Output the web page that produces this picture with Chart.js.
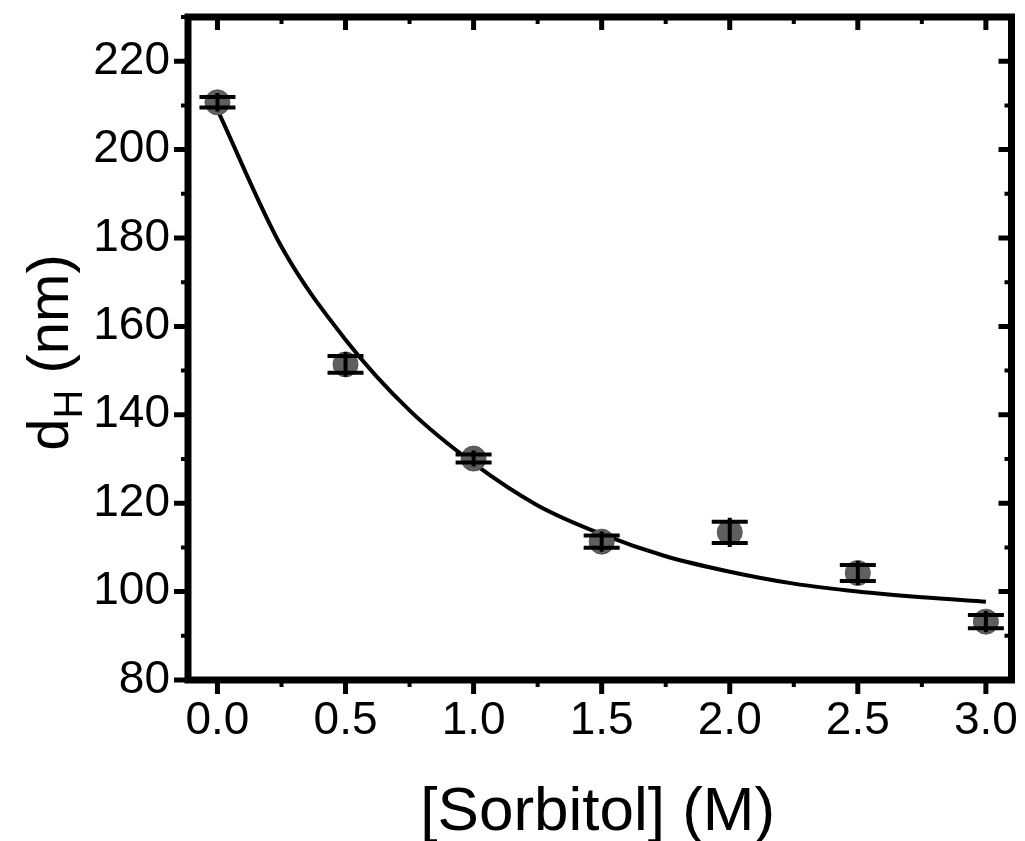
<!DOCTYPE html>
<html>
<head>
<meta charset="utf-8">
<script src="https://cdn.jsdelivr.net/npm/chart.js@4"></script>
<style>
  html, body { margin: 0; padding: 0; background: #fff; }
  #wrap { width: 1025px; height: 841px; }
</style>
</head>
<body>
<div id="wrap"><canvas id="dhChart" width="1025" height="841"></canvas></div>
<script>
// measured points
const sorbitol = [0, 0.5, 1.0, 1.5, 2.0, 2.5, 3.0];
const dH = [210.7, 151.4, 130.1, 111.3, 113.4, 104.2, 93.2];
const dHErr = [1.2, 1.9, 0.9, 1.4, 2.4, 1.8, 1.5];

// fitted decay curve
const fitX = [0, 0.25, 0.5, 0.75, 1.0, 1.25, 1.5, 1.75, 2.0, 2.25, 2.5, 2.75, 3.0];
const fitY = [209, 178, 157, 141, 129, 119.5, 113, 108, 104.5, 101.8, 100, 98.7, 97.7];

const xMajor = [0, 0.5, 1.0, 1.5, 2.0, 2.5, 3.0];
const xMinor = [0.25, 0.75, 1.25, 1.75, 2.25, 2.75];
const yMajor = [80, 100, 120, 140, 160, 180, 200, 220];
const yMinor = [90, 110, 130, 150, 170, 190, 210, 230];

const FONT = "'Liberation Sans', Arial, Helvetica, sans-serif";

// error bars on top of the markers
const errorBars = {
    id: 'errorBars',
    afterDatasetsDraw(chart) {
        const ctx = chart.ctx;
        const xs = chart.scales.x, ys = chart.scales.y;
        ctx.save();
        ctx.strokeStyle = '#000';
        ctx.lineWidth = 4;
        sorbitol.forEach((c, i) => {
            const px = xs.getPixelForValue(c);
            const top = ys.getPixelForValue(dH[i] + dHErr[i]);
            const bot = ys.getPixelForValue(dH[i] - dHErr[i]);
            ctx.beginPath();
            ctx.moveTo(px, top - 4); ctx.lineTo(px, bot + 4);
            ctx.moveTo(px - 18, top); ctx.lineTo(px + 18, top);
            ctx.moveTo(px - 18, bot); ctx.lineTo(px + 18, bot);
            ctx.stroke();
        });
        ctx.restore();
    }
};

// box frame, ticks and axis titles
const frame = {
    id: 'frame',
    afterDraw(chart) {
        const ctx = chart.ctx;
        const a = chart.chartArea;
        const xs = chart.scales.x, ys = chart.scales.y;
        ctx.save();
        ctx.strokeStyle = '#000';
        ctx.fillStyle = '#000';

        ctx.lineWidth = 5;
        xMajor.forEach(v => {
            const p = xs.getPixelForValue(v);
            ctx.beginPath();
            ctx.moveTo(p, a.bottom); ctx.lineTo(p, a.bottom + 14);
            ctx.moveTo(p, a.top); ctx.lineTo(p, a.top + 13);
            ctx.stroke();
        });
        yMajor.forEach(v => {
            const p = ys.getPixelForValue(v);
            ctx.beginPath();
            ctx.moveTo(a.left, p); ctx.lineTo(a.left - 14, p);
            ctx.moveTo(a.right, p); ctx.lineTo(a.right - 13, p);
            ctx.stroke();
        });
        ctx.lineWidth = 4;
        xMinor.forEach(v => {
            const p = xs.getPixelForValue(v);
            ctx.beginPath();
            ctx.moveTo(p, a.bottom); ctx.lineTo(p, a.bottom + 7);
            ctx.moveTo(p, a.top); ctx.lineTo(p, a.top + 7);
            ctx.stroke();
        });
        yMinor.forEach(v => {
            const p = ys.getPixelForValue(v);
            ctx.beginPath();
            ctx.moveTo(a.left, p); ctx.lineTo(a.left - 7, p);
            ctx.moveTo(a.right, p); ctx.lineTo(a.right - 7, p);
            ctx.stroke();
        });

        ctx.lineWidth = 7;
        ctx.strokeRect(a.left, a.top, a.right - a.left, a.bottom - a.top);

        // x title
        ctx.font = '62px ' + FONT;
        ctx.textAlign = 'center';
        ctx.textBaseline = 'alphabetic';
        ctx.fillText('[Sorbitol] (M)', (a.left + a.right) / 2 - 2, 830);

        // y title: d with subscript H
        ctx.translate(68, (a.top + a.bottom) / 2 + 4);
        ctx.rotate(-Math.PI / 2);
        ctx.textAlign = 'left';
        const big = '58px ' + FONT, small = '40px ' + FONT;
        ctx.font = big;
        const wd = ctx.measureText('d').width;
        const wr = ctx.measureText(' (nm)').width;
        ctx.font = small;
        const wh = ctx.measureText('H').width;
        let x0 = -(wd + wh + wr) / 2;
        ctx.font = big;
        ctx.fillText('d', x0, 0);
        ctx.font = small;
        ctx.fillText('H', x0 + wd, 14);
        ctx.font = big;
        ctx.fillText(' (nm)', x0 + wd + wh, 0);
        ctx.restore();
    }
};

const ctx = document.getElementById('dhChart').getContext('2d');

const dhChart = new Chart(ctx, {
    type: 'scatter',
    data: {
        datasets: [
            {
                label: 'fit',
                type: 'line',
                data: fitX.map((x, i) => ({ x: x, y: fitY[i] })),
                borderColor: '#000',
                borderWidth: 4,
                pointRadius: 0,
                cubicInterpolationMode: 'monotone',
                fill: false,
                order: 2
            },
            {
                label: 'dH',
                data: sorbitol.map((x, i) => ({ x: x, y: dH[i] })),
                backgroundColor: '#5f5f5f',
                borderColor: '#555',
                borderWidth: 1,
                pointRadius: 12.5,
                order: 1
            }
        ]
    },
    options: {
        responsive: false,
        animation: false,
        layout: {
            padding: { left: 0, top: 17, right: 11, bottom: 0 }
        },
        plugins: {
            legend: { display: false },
            tooltip: { enabled: false }
        },
        scales: {
            x: {
                type: 'linear',
                min: -0.115,
                max: 3.1,
                afterFit: s => { s.height = 161; s.paddingLeft = 0; s.paddingRight = 0; },
                afterBuildTicks: s => { s.ticks = xMajor.map(v => ({ value: v })); },
                grid: { display: false },
                border: { display: false },
                ticks: {
                    color: '#000',
                    padding: 6,
                    font: { family: FONT, size: 46 },
                    callback: v => v.toFixed(1)
                }
            },
            y: {
                type: 'linear',
                min: 80,
                max: 230,
                afterFit: s => { s.width = 188; s.paddingTop = 0; s.paddingBottom = 0; },
                afterBuildTicks: s => { s.ticks = yMajor.map(v => ({ value: v })); },
                grid: { display: false },
                border: { display: false },
                ticks: {
                    color: '#000',
                    padding: 10,
                    font: { family: FONT, size: 46 }
                }
            }
        }
    },
    plugins: [errorBars, frame]
});
</script>
</body>
</html>
